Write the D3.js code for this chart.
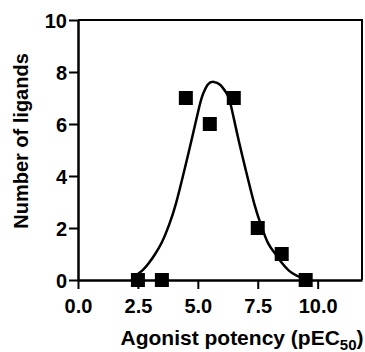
<!DOCTYPE html>
<html>
<head>
<meta charset="utf-8">
<script src="https://cdn.jsdelivr.net/npm/d3@7"></script>
<style>
  body { margin: 0; background: #fff; }
  svg { display: block; font-family: "Liberation Sans", Arial, sans-serif; font-weight: bold; }
  .tick text { font-size: 20px; font-weight: bold; fill: #000; }
  .label { font-size: 20px; font-weight: bold; fill: #000; }
</style>
</head>
<body>
<svg width="365" height="352"></svg>
<script>
// binned agonist potency
const potency = [2.5, 3.5, 4.5, 5.5, 6.5, 7.5, 8.5, 9.5];
const ligands = [0, 0, 7, 6, 7, 2, 1, 0];

// fitted gaussian
const fitX = [2.45, 2.70, 2.95, 3.22, 3.50, 3.80, 4.09, 4.44, 4.77, 5.07, 5.22, 5.42, 5.66, 5.94, 6.20, 6.37, 6.67, 7.00, 7.35, 7.64, 7.93, 8.24, 8.52, 8.80, 9.12, 9.55];
const fitY = [0.20, 0.38, 0.64, 1.00, 1.45, 2.12, 2.95, 4.23, 5.51, 6.70, 7.16, 7.52, 7.62, 7.50, 7.18, 6.75, 5.51, 4.23, 2.95, 2.10, 1.42, 1.00, 0.64, 0.36, 0.17, 0.04];

const xTicks = [0, 2.5, 5, 7.5, 10];
const yTicks = [0, 2, 4, 6, 8, 10];

const svg = d3.select('svg');

const x = d3.scaleLinear().domain([0, 11.85]).range([78, 362]);
const y = d3.scaleLinear().domain([0, 10]).range([280, 20]);

// top and right frame
svg.append('path')
  .attr('d', `M${x(0)},${y(10)}H${x.range()[1]}V${y(0)}`)
  .attr('fill', 'none')
  .attr('stroke', '#000')
  .attr('stroke-width', 2);

const xAxis = svg.append('g')
  .attr('transform', `translate(0, ${y(0)})`)
  .call(d3.axisBottom(x)
    .tickValues(xTicks)
    .tickFormat(d3.format('.1f'))
    .tickSize(9)
    .tickSizeOuter(0)
    .tickPadding(10));

const yAxis = svg.append('g')
  .attr('transform', `translate(${x(0)}, 0)`)
  .call(d3.axisLeft(y)
    .tickValues(yTicks)
    .tickSize(9)
    .tickSizeOuter(0)
    .tickPadding(2));

svg.selectAll('.domain').attr('stroke', '#000').attr('stroke-width', 2.5);
svg.selectAll('.tick line').attr('stroke', '#000').attr('stroke-width', 2);
yAxis.selectAll('.tick text').attr('dy', '0.36em');

// fit curve
const line = d3.line()
  .x((d, i) => x(fitX[i]))
  .y((d, i) => y(fitY[i]))
  .curve(d3.curveNatural);

svg.append('path')
  .datum(fitX)
  .attr('d', line)
  .attr('fill', 'none')
  .attr('stroke', '#000')
  .attr('stroke-width', 2.5);

const sq = 14;
svg.selectAll('rect.pt')
  .data(potency)
  .enter()
  .append('rect')
  .attr('class', 'pt')
  .attr('x', (d) => x(d) - sq / 2)
  .attr('y', (d, i) => y(ligands[i]) - sq / 2)
  .attr('width', sq)
  .attr('height', sq)
  .attr('fill', '#000');

svg.append('text')
  .attr('class', 'label')
  .attr('transform', 'translate(28, 141) rotate(-90)')
  .attr('text-anchor', 'middle')
  .text('Number of ligands');

const xl = svg.append('text')
  .attr('class', 'label')
  .attr('x', 242)
  .attr('y', 345)
  .attr('text-anchor', 'middle')
  .style('font-size', '21px');
xl.append('tspan').text('Agonist potency (pEC');
xl.append('tspan').attr('dy', 5).style('font-size', '15px').text('50');
xl.append('tspan').attr('dy', -5).text(')');
</script>
</body>
</html>
